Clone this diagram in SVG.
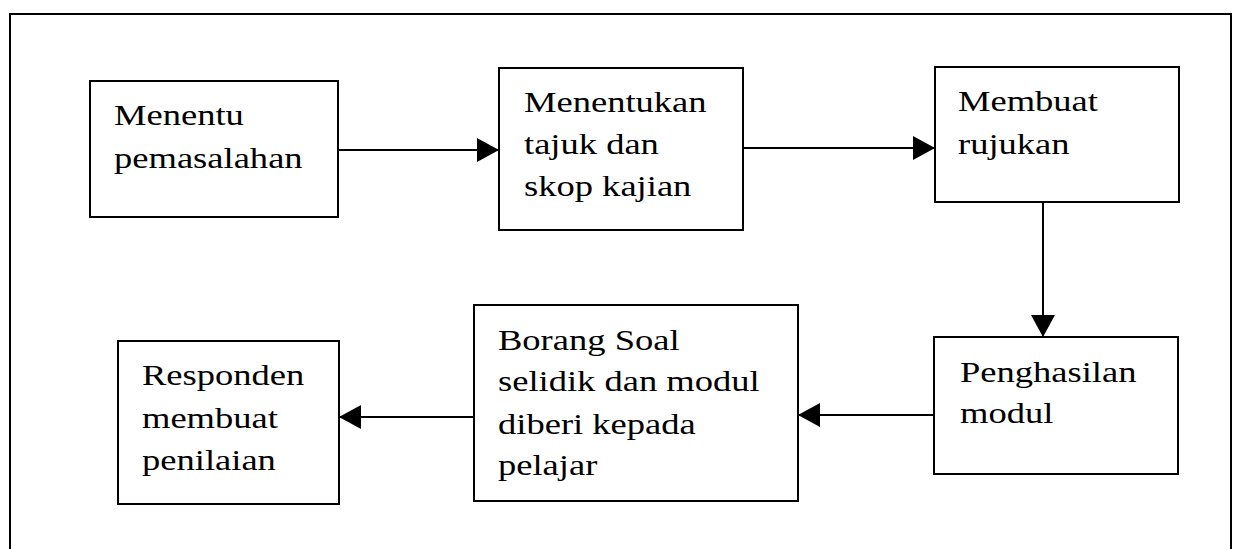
<svg xmlns="http://www.w3.org/2000/svg" width="1239" height="549" viewBox="0 0 1239 549">
<style>
.box{fill:#fff;stroke:#000;stroke-width:2}
.t{font-family:"Liberation Serif","Times New Roman",serif;font-size:29px;fill:#000}
.c{stroke:#000;stroke-width:2;fill:none}
</style>
<defs>
<marker id="ah" markerUnits="userSpaceOnUse" markerWidth="22" markerHeight="24" refX="22" refY="12" orient="auto">
<path d="M0,0 L22,12 L0,24 Z" fill="#000"/>
</marker>
</defs>
<rect width="1239" height="549" fill="#fff"/>
<path d="M10,549 L10,14 L1231,14 L1231,549" class="c"/>
<g id="connectors">
<line x1="338" y1="150" x2="499" y2="150" class="c" marker-end="url(#ah)"/>
<line x1="743" y1="148" x2="935" y2="148" class="c" marker-end="url(#ah)"/>
<line x1="1043" y1="202" x2="1043" y2="337" class="c" marker-end="url(#ah)"/>
<line x1="934" y1="415" x2="798" y2="415" class="c" marker-end="url(#ah)"/>
<line x1="474" y1="417" x2="339" y2="417" class="c" marker-end="url(#ah)"/>
</g>
<g id="n1">
<rect x="90" y="81" width="248" height="136" class="box"/>
<text class="t" transform="translate(114 125) scale(1.26 1)"><tspan x="0" y="0">Menentu</tspan><tspan x="0" y="43">pemasalahan</tspan></text>
</g>
<g id="n2">
<rect x="499" y="68" width="244" height="162" class="box"/>
<text class="t" transform="translate(524 112) scale(1.26 1)"><tspan x="0" y="0">Menentukan</tspan><tspan x="0" y="42">tajuk dan</tspan><tspan x="0" y="84">skop kajian</tspan></text>
</g>
<g id="n3">
<rect x="935" y="67" width="244" height="135" class="box"/>
<text class="t" transform="translate(958 111) scale(1.26 1)"><tspan x="0" y="0">Membuat</tspan><tspan x="0" y="43">rujukan</tspan></text>
</g>
<g id="n4">
<rect x="934" y="337" width="244" height="137" class="box"/>
<text class="t" transform="translate(960 382) scale(1.26 1)"><tspan x="0" y="0">Penghasilan</tspan><tspan x="0" y="41">modul</tspan></text>
</g>
<g id="n5">
<rect x="474" y="305" width="324" height="196" class="box"/>
<text class="t" transform="translate(498 350) scale(1.26 1)"><tspan x="0" y="0">Borang Soal</tspan><tspan x="0" y="41">selidik dan modul</tspan><tspan x="0" y="84">diberi kepada</tspan><tspan x="0" y="125">pelajar</tspan></text>
</g>
<g id="n6">
<rect x="118" y="341" width="221" height="163" class="box"/>
<text class="t" transform="translate(142 385) scale(1.26 1)"><tspan x="0" y="0">Responden</tspan><tspan x="0" y="43">membuat</tspan><tspan x="0" y="85">penilaian</tspan></text>
</g>
</svg>
